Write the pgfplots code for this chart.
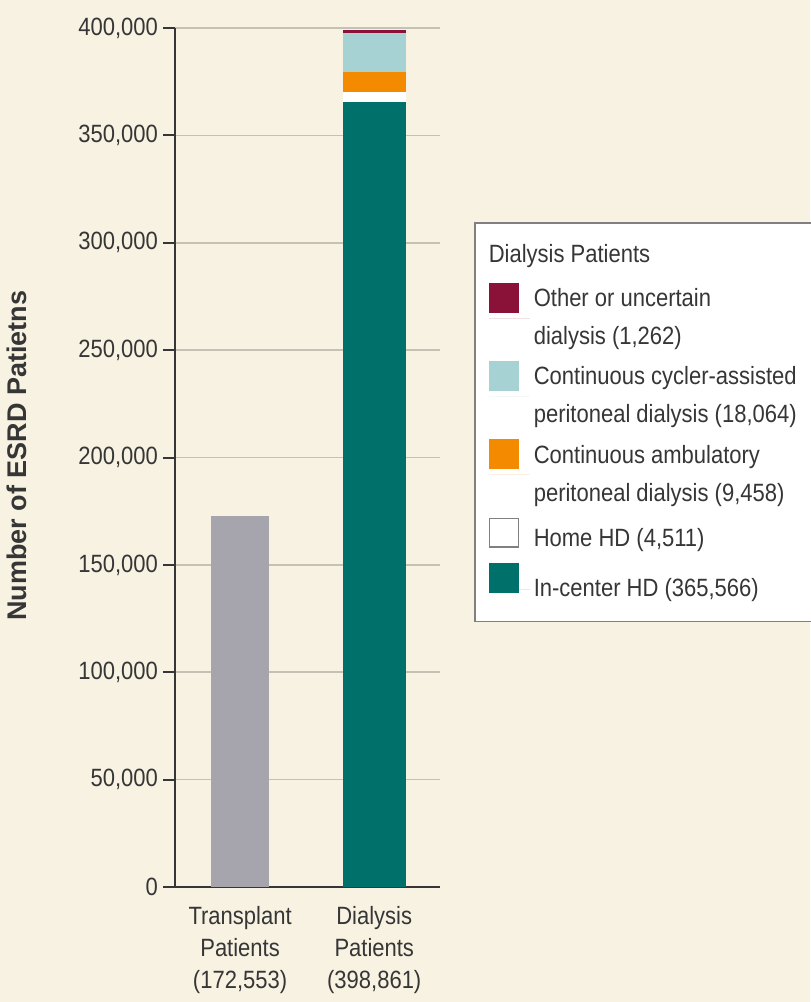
\documentclass[border=0pt]{standalone}
\usepackage{fontspec}
\setmainfont{Liberation Sans}[FakeStretch=0.88]
\newfontfamily\labelfont{Liberation Sans}
\usepackage{pgfplots}
\pgfplotsset{compat=1.18}
\definecolor{bgcream}{HTML}{F8F2E2}
\definecolor{tgray}{HTML}{A6A5AD}
\definecolor{tealc}{HTML}{00706A}
\definecolor{orangec}{HTML}{F38A00}
\definecolor{lblue}{HTML}{A6D2D3}
\definecolor{maroon}{HTML}{8A1238}
\definecolor{gridc}{HTML}{C6C1B5}
\definecolor{txt}{HTML}{363636}
\pgfplotsset{
  twoline/.style={legend image code/.code={
      \fill[##1,draw=none] (0pt,2.5pt) rectangle (15pt,17.5pt);
      \path (0pt,0pt) -- (20.5pt,0pt);}},
}
\begin{document}
\begin{tikzpicture}[x=1pt,y=1pt]
\fill[bgcream] (-87.5,-57.5) rectangle (317.5,443.5);
\begin{axis}[
  at={(0,0)}, anchor=south west,
  scale only axis, width=132.5pt, height=429.5pt,
  xmin=0.515, xmax=2.49, ymin=0, ymax=400000,
  ybar stacked,
  axis x line=bottom, axis y line=left,
  axis line style={-, color=txt, line width=1pt},
  scaled y ticks=false,
  ytick={0,50000,100000,150000,200000,250000,300000,350000,400000},
  yticklabels={0,{50,000},{100,000},{150,000},{200,000},{250,000},{300,000},{350,000},{400,000}},
  ymajorgrids, grid style={color=gridc, line width=0.8pt},
  tick align=outside, major tick length=6pt,
  ytick style={color=txt, line width=1pt},
  xtick={1,2},
  xticklabels={{Transplant\\Patients\\(172,553)},{Dialysis\\Patients\\(398,861)}},
  xtick style={draw=none},
  x tick label style={align=center, font=\fontsize{12.5}{16}\selectfont, text=txt},
  y tick label style={font=\fontsize{12.5}{15}\selectfont, text=txt, xshift=1pt},
  ylabel={\labelfont\bfseries Number of ESRD Patietns},
  ylabel style={at={(axis description cs:-0.596,0.502)}, anchor=center, font=\fontsize{13.5}{16}\selectfont, text=txt},
  reverse legend,
  legend style={at={(1.1283,0.7742)}, anchor=north west, draw=gray, fill=white,
    line width=0.8pt, inner xsep=7pt, inner ysep=9pt,
    font=\fontsize{12.5}{17.5}\selectfont, text=txt,
    row sep=4.75pt,
    cells={anchor=west, align=left},
    nodes={inner sep=2pt}},
]
\addplot[fill=tgray, draw=none, bar width=29pt, forget plot] coordinates {(1,172553) (2,0)};
\addplot[fill=tealc, draw=none, bar width=31.5pt,
  legend image code/.code={\fill[tealc] (0pt,-1.75pt) rectangle (15pt,13.25pt); \path (0pt,0pt) -- (20.5pt,0pt);}] coordinates {(1,0) (2,365566)};
\addlegendentry{In-center HD (365,566)\rule[-8.1pt]{0pt}{0pt}}
\addplot[fill=white, draw=none, bar width=31.5pt,
  legend image code/.code={\filldraw[fill=white,draw=gray,line width=0.6pt] (0.3pt,-4.2pt) rectangle (14.7pt,10.2pt); \path (0pt,0pt) -- (20.5pt,0pt);}] coordinates {(1,0) (2,4511)};
\addlegendentry{Home HD (4,511)}
\addplot[fill=orangec, draw=none, bar width=31.5pt, twoline] coordinates {(1,0) (2,9458)};
\addlegendentry{Continuous ambulatory\\[1.5pt]peritoneal dialysis (9,458)}
\addplot[fill=lblue, draw=none, bar width=31.5pt, twoline] coordinates {(1,0) (2,18064)};
\addlegendentry{Continuous cycler-assisted\rule{10pt}{0pt}\\[1.5pt]peritoneal dialysis (18,064)}
\addplot[fill=maroon, draw=none, bar width=31.5pt, twoline] coordinates {(1,0) (2,1262)};
\addlegendentry{Other or uncertain\\[1.5pt]dialysis (1,262)}
\addlegendimage{empty legend}
\addlegendentry{\hspace*{-22.5pt}\raisebox{2pt}{Dialysis Patients}}
\end{axis}
\pgfresetboundingbox
\path[use as bounding box] (-87.5,-57.5) rectangle (317.5,443.5);
\end{tikzpicture}
\end{document}
